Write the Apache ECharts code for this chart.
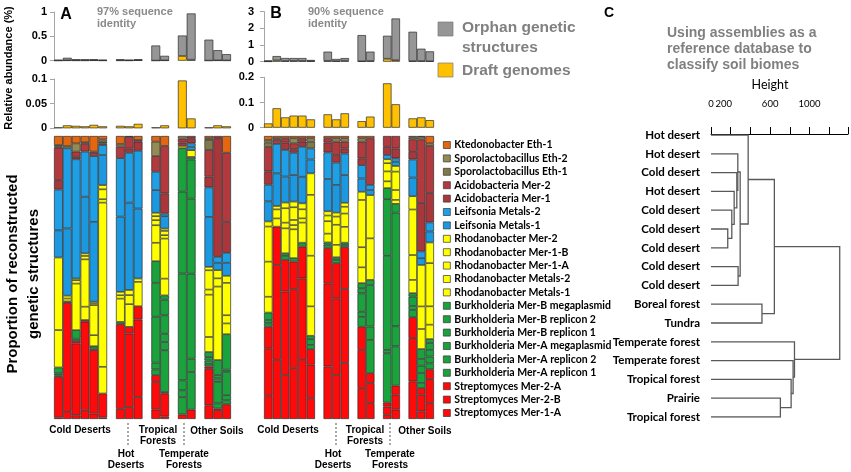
<!DOCTYPE html>
<html><head><meta charset="utf-8">
<script src="https://cdn.jsdelivr.net/npm/echarts@6/dist/echarts.min.js"></script>
<style>html,body{margin:0;padding:0;background:#fff}#c{width:851px;height:472px}</style>
</head><body><div id="c"></div>
<script>
// ---------- data ----------
const componentNames = ['Ktedonobacter Eth-1','Sporolactobacillus Eth-2','Sporolactobacillus Eth-1','Acidobacteria Mer-2','Acidobacteria Mer-1','Leifsonia Metals-2','Leifsonia Metals-1','Rhodanobacter Mer-2','Rhodanobacter Mer-1-B','Rhodanobacter Mer-1-A','Rhodanobacter Metals-2','Rhodanobacter Metals-1','Burkholderia Mer-B megaplasmid','Burkholderia Mer-B replicon 2','Burkholderia Mer-B replicon 1','Burkholderia Mer-A megaplasmid','Burkholderia Mer-A replicon 2','Burkholderia Mer-A replicon 1','Streptomyces Mer-2-A','Streptomyces Mer-2-B','Streptomyces Mer-1-A'];
const componentColors = ['#E4670F','#948A54','#80794A','#B23A3E','#A8363A','#1F9FE6','#1B98E0','#FFFF00','#FFFF00','#FFFF00','#FFFF00','#FFFF00','#1AA23C','#1AA23C','#1AA23C','#1AA23C','#1AA23C','#1AA23C','#FF0A0A','#FF0A0A','#FF0A0A'];
const groupNames = ['Cold Deserts','Hot Deserts','Tropical Forests','Temperate Forests','Other Soils'];
const groupSizes = [6,3,2,2,3];
// composition (% of reconstructed genetic structures), one row per sample, columns in componentNames order
const compA = [
 [3.2,0.5,0.4,11.5,3.3,14.4,9.6,25.6,13.2,0,0,0,2.1,0.7,0.5,0,0,0,14.4,0.5,0],
 [3.5,0.8,0,0,0,28,23.5,1,1,0,0,0,0,0,0,0,0,0,0.6,38,2.5],
 [2.6,2.9,0,1.8,0.9,42,0,0.6,1.2,16.4,0,0,3,0.8,0,0,0,0,0.9,25.3,1.3],
 [2.2,0.6,0,2.7,0,15.9,20,0.9,1.2,16.7,4.7,0,0,0,0,0,0,0,0.6,31.2,3.1],
 [5.5,0.4,0,1.2,0,23.2,28.2,0.6,0.6,10.6,3.9,0,0.8,0.6,0,0,0,0,22.4,1.9,0],
 [1.2,0.8,0.6,0.6,0,3.5,10.6,1.5,3.5,1.2,57.9,9.4,0,0,0,0,0,0,8.5,0.5,0],
 [2.8,0.9,0,4.1,0,20.6,26.5,1.2,1.2,8.2,0,0,0.8,0,0,0,0,0,29.8,3.6,0],
 [0.3,0,0,4.1,1.5,17.6,30.8,1.8,3.2,8,0,0,0,0,0,0,0,0,2.4,25.9,4.2],
 [1.4,0,0,0.6,3.2,20.4,24.7,1.2,8.6,0,0,0,0,0,0,0,0,0,4.7,27.3,7.8],
 [2,5.1,0,5.5,0,6.5,8,1.2,1.4,1.8,6.2,6.5,7.6,12,16.2,2.4,2,0,2.4,9.8,3.3],
 [3.5,0,0,16.7,7.1,0.9,4.4,0.8,1.5,1.2,14.1,5.9,1.5,5.5,6.5,2.9,2.9,14.7,0.6,8,0.9],
 [0,0.9,0,1.4,1.2,0,0,0.8,0,0,0,0,15.3,28.8,37.6,3.5,2.4,6.1,1.6,0,0],
 [0,0,0,0.8,1.8,1.2,1.2,2.4,0,0,0,0,0.9,13.8,26.5,30,4.7,13.3,3.3,0,0],
 [0.8,0.6,3.5,9.4,3.8,10.4,17.6,1.2,6.8,1.8,14.9,5.3,1.8,1.2,1.2,0.9,0,0,0.8,12.9,4.8],
 [0,0,0,0.8,41.8,2.1,2.6,2.9,2.9,25.9,0,0,5.3,1.2,1.2,7.6,1.8,0,0.6,3.1,0],
 [5.9,0,0,24.4,10.9,3.5,4.6,2.5,11.4,2.9,3.8,0,12.5,0.8,8.2,1.8,1.4,0,5.2,0,0]
];
const compB = [
 [1.4,0.9,1.6,8.6,4.7,5.9,7.1,1.8,12.4,12.4,5.6,0,2.6,1.2,1.2,0,0,0,7.6,16.8,8.2],
 [0.8,0.6,0,1.4,0,10.4,11.5,1.2,3.2,2.9,0,0,0,0,0,0,0,0,13.5,33.5,20.9],
 [0.8,0,0,1.5,2.6,9.4,9.2,2,5.1,2,8.8,0,0.9,1.4,0,0,0,0,11.2,29.4,15.6],
 [0.8,1.8,0,2.1,1.2,7.9,9.4,2,4.5,1.8,1.5,10.2,1.2,0,0,0,0,0,9.8,27.9,18],
 [0.8,0,0,1.2,1.8,10.6,9.4,2.1,3.2,1.5,7.1,0,1.4,0,0,0,0,0,11.2,28.8,20.9],
 [0.8,1.2,2.4,0,0,3.9,4.9,7.6,21.5,17.9,10.4,0,1.2,2,1.5,0,0,0,5.5,11.8,7.4],
 [0.8,0,0,1.5,3.5,9.4,11.4,1.5,2,4.4,3.1,0,0.8,1.2,0,0,0,0,12.6,29.2,18.6],
 [0.8,1.2,0,4.7,2.7,7.9,9.8,1.4,2.9,7.1,4.4,0,0.9,1.2,0,0,0,0,12.4,27.1,15.6],
 [0.8,1.2,0,2.4,1.8,7.6,9.8,1.4,2.4,4.7,5.6,0,0.8,0.8,0,0,0,0,14.8,26.1,19.8],
 [0.8,1.2,0,5.9,2.4,4.7,4.7,2.9,16.7,7.1,5.6,0,1.8,1.8,6.5,1.8,3.5,0,8.2,13.5,10.9],
 [0.8,0,0,16.5,0,1.8,1.8,15.3,14.7,0,0,0,1.8,14.7,4.7,11.8,0,0,3.5,7.1,5.6],
 [0,0,0,3.8,2.9,1.5,0,1.4,2.9,3.5,2.4,0,3.9,20,33.2,1.2,17.4,0,1.4,2.9,1.5],
 [0,0,0,4.4,3.5,1.2,1.5,2,6.5,3.5,1.4,0,3.1,40.2,7.1,13.9,0,0,3.2,5.3,3.3],
 [0.5,0.7,0,4.4,2.7,6.4,6.6,4.7,16.1,8.8,4.7,0,1.2,3.3,1.4,2.6,0,0,7.4,15.3,13.3],
 [0.3,0.9,0,22.6,17.1,2.4,2.4,14.7,8,7.1,0,0,3.5,2.4,2.6,3.5,1.8,0,2.4,5.9,2.7],
 [2.6,0.9,0,16.7,10.4,3.2,3.9,7.3,15.3,6.5,5.1,0,1.4,2.4,2.4,2.4,2.1,0,3.5,8.5,5.6]
];
// relative abundance (%)
const orphanA = [0.018,0.054,0.025,0.026,0.023,0.016, 0.025,0.016,0.021, 0.31,0.094, 0.42,0.95, 0.43,0.21,0.13];
const draftA  = [0.002,0.006,0.005,0.004,0.007,0.004, 0.005,0.004,0.009, 0.002,0.006, 0.097,0.02, 0.002,0.006,0.004];
const orphanB = [0.06,0.26,0.18,0.17,0.17,0.07, 0.55,0.13,0.16, 1.57,0.56, 1.38,2.5, 1.76,0.74,0.59];
const draftB  = [0.017,0.077,0.041,0.048,0.048,0.033, 0.053,0.033,0.057, 0.026,0.044, 0.176,0.093, 0.037,0.041,0.03];
// dendrogram
const leafLabels = ['Hot desert','Hot desert','Cold desert','Hot desert','Cold desert','Cold desert','Cold desert','Cold desert','Cold desert','Boreal forest','Tundra','Temperate forest','Temperate forest','Tropical forest','Prairie','Tropical forest'];
// [nodeA, nodeB, height]; leaves are 0..15, merge k creates node 16+k
const merges = [[5,6,170],[4,16,211],[3,17,235],[2,18,262],[1,19,272],[7,8,275],[20,21,296],[0,22,377],[9,10,517],[23,24,643],[14,15,704],[13,26,813],[12,27,833],[11,28,847],[25,29,1306]];
const heightTickLabels = [0,200,600,1000];

// ---------- build ----------
const chart = echarts.init(document.getElementById('c'));
const slotIdx = [];
{ let k = 0; groupSizes.forEach((n, g) => { for (let i = 0; i < n; i++) slotIdx.push(k++); if (g < groupSizes.length - 1) slotIdx.push(null); }); }
const cats = slotIdx.map((v, i) => 'c' + i);
const spread = arr => slotIdx.map(i => (i === null || !(arr[i] > 0)) ? '-' : arr[i]);
const norm = rows => rows.map(r => { const t = r.reduce((a, b) => a + b, 0); return r.map(v => v / t * 100); });

const BOLD = 'bold';
const SANS = "'Liberation Sans', Arial, sans-serif";
const NARROW = "Lato, 'Liberation Sans', sans-serif";
const border = { borderColor: '#2b2b2b', borderWidth: 0.7 };

const grids = [
  { left: 54, top: 12, width: 177, height: 48.7 },
  { left: 54, top: 79, width: 177, height: 49.3 },
  { left: 54, top: 136, width: 177, height: 283 },
  { left: 264, top: 11.7, width: 170, height: 50 },
  { left: 264, top: 77.3, width: 170, height: 50.4 },
  { left: 264, top: 136, width: 170, height: 283 },
  { left: 711, top: 124, width: 137, height: 10 },
  { left: 711, top: 135, width: 137, height: 282 }
];
const xAxes = [], yAxes = [];
for (let g = 0; g < 6; g++) xAxes.push({ gridIndex: g, type: 'category', data: cats, show: false });
xAxes.push({ gridIndex: 6, type: 'value', min: 0, max: 1390, interval: 200, position: 'top',
  axisLine: { show: true, lineStyle: { color: '#000', width: 1 } },
  axisTick: { show: true, length: 7, lineStyle: { color: '#000' } },
  splitLine: { show: false },
  axisLabel: { margin: 15, fontSize: 9.5, fontFamily: NARROW, color: '#000',
    formatter: v => heightTickLabels.includes(v) ? (v === 200 ? '{s|200}' : String(v)) : '',
    rich: { s: { fontSize: 9.5, fontFamily: NARROW, color: '#000', padding: [0, 14, 0, 0] } } } });
xAxes.push({ gridIndex: 7, type: 'value', min: 0, max: 1390, show: false });

function smallY(g, max, interval, margin) {
  return { gridIndex: g, type: 'value', min: 0, max: max, interval: interval,
    axisLine: { show: true, lineStyle: { color: '#a6a6a6' } },
    axisTick: { show: true, length: 4, lineStyle: { color: '#a6a6a6' } },
    splitLine: { show: false },
    axisLabel: { margin: margin, fontWeight: BOLD, fontSize: 11, fontFamily: SANS, color: '#000' } };
}
yAxes.push(smallY(0, 1, 0.5, 7));
yAxes.push(smallY(1, 0.1, 0.05, 7));
yAxes.push({ gridIndex: 2, type: 'value', min: 0, max: 100, show: false });
yAxes.push(smallY(3, 3, 1, 10));
yAxes.push(smallY(4, 0.2, 0.1, 10));
yAxes.push({ gridIndex: 5, type: 'value', min: 0, max: 100, show: false });
yAxes.push({ gridIndex: 6, type: 'value', min: 0, max: 1, show: false });
yAxes.push({ gridIndex: 7, type: 'value', min: 0, max: 15, interval: 1, inverse: true,
  axisLine: { show: false }, axisTick: { show: false }, splitLine: { show: false },
  axisLabel: { margin: 11, fontWeight: BOLD, fontSize: 11.5, fontFamily: NARROW, color: '#000',
    formatter: v => leafLabels[v] || '' } });

const series = [];
const barBase = { type: 'bar', barCategoryGap: '0%', barGap: '0%', barWidth: '100%' };
function addPanel(p, gTop, gMid, gComp, orphan, draft, comp) {
  series.push(Object.assign({}, barBase, { name: 'Draft genomes', xAxisIndex: gTop, yAxisIndex: gTop, stack: 'top' + p,
    data: spread(draft), itemStyle: Object.assign({ color: '#FFC000' }, border) }));
  series.push(Object.assign({}, barBase, { name: 'Orphan genetic structures', xAxisIndex: gTop, yAxisIndex: gTop, stack: 'top' + p,
    data: spread(orphan), itemStyle: Object.assign({ color: '#969696' }, border) }));
  series.push(Object.assign({}, barBase, { name: 'Draft genomes', xAxisIndex: gMid, yAxisIndex: gMid,
    data: spread(draft), itemStyle: Object.assign({ color: '#FFC000' }, border) }));
  const rows = norm(comp);
  for (let c = componentNames.length - 1; c >= 0; c--) {
    series.push(Object.assign({}, barBase, { name: componentNames[c], xAxisIndex: gComp, yAxisIndex: gComp, stack: 'comp' + p,
      data: spread(rows.map(r => r[c])),
      itemStyle: Object.assign({ color: componentColors[c] }, border) }));
  }
}
addPanel('A', 0, 1, 2, orphanA, draftA, compA);
addPanel('B', 3, 4, 5, orphanB, draftB, compB);

// dendrogram segments
const nodeH = [], nodeY = [];
leafLabels.forEach((l, i) => { nodeH[i] = 0; nodeY[i] = i; });
const dendroLines = merges.map((m, k) => {
  const [a, b, h] = m; const id = leafLabels.length + k;
  nodeH[id] = h; nodeY[id] = (nodeY[a] + nodeY[b]) / 2;
  return { coords: [[nodeH[a], nodeY[a]], [h, nodeY[a]], [h, nodeY[b]], [nodeH[b], nodeY[b]]] };
});
series.push({ type: 'lines', coordinateSystem: 'cartesian2d', xAxisIndex: 7, yAxisIndex: 7, polyline: true,
  silent: true, data: dendroLines, lineStyle: { color: '#595959', width: 1.3, opacity: 1, curveness: 0 } });

const txt = (x, y, s, o, rot) => ({ type: 'text', x: x, y: y, rotation: rot || 0, silent: true,
  style: Object.assign({ text: s, fill: '#000', font: 'bold 10px ' + SANS, textAlign: 'center', textVerticalAlign: 'middle' }, o || {}) });
const dash = (x) => ({ type: 'line', silent: true, shape: { x1: x, y1: 423, x2: x, y2: 445 },
  style: { stroke: '#555', lineWidth: 1, lineDash: [2, 2] } });

const graphic = [
  txt(9, 68, 'Relative abundance (%)', { font: 'bold 11px ' + SANS }, Math.PI / 2),
  txt(13, 274, 'Proportion of reconstructed', { font: 'bold 15px ' + SANS }, Math.PI / 2),
  txt(34, 274, 'genetic structures', { font: 'bold 15px ' + SANS }, Math.PI / 2),
  txt(66, 15, 'A', { font: 'bold 16px ' + SANS }),
  txt(276, 14, 'B', { font: 'bold 16px ' + SANS }),
  txt(609, 13, 'C', { font: 'bold 14px ' + SANS }),
  txt(97, 12, '97% sequence', { font: 'bold 11px ' + SANS, fill: '#8a8a8a', textAlign: 'left' }),
  txt(97, 24, 'identity', { font: 'bold 11px ' + SANS, fill: '#8a8a8a', textAlign: 'left' }),
  txt(308, 12, '90% sequence', { font: 'bold 11px ' + SANS, fill: '#8a8a8a', textAlign: 'left' }),
  txt(308, 24, 'identity', { font: 'bold 11px ' + SANS, fill: '#8a8a8a', textAlign: 'left' }),
  { type: 'rect', shape: { x: 438, y: 22, width: 15, height: 14 }, style: { fill: '#969696', stroke: '#7a7a7a', lineWidth: 0.7 } },
  { type: 'rect', shape: { x: 438, y: 63, width: 15, height: 14 }, style: { fill: '#FFC000', stroke: '#7a7a7a', lineWidth: 0.7 } },
  txt(462, 28, 'Orphan genetic', { font: 'bold 15.5px ' + SANS, fill: '#808080', textAlign: 'left' }),
  txt(462, 48, 'structures', { font: 'bold 15.5px ' + SANS, fill: '#808080', textAlign: 'left' }),
  txt(462, 71, 'Draft genomes', { font: 'bold 15.5px ' + SANS, fill: '#808080', textAlign: 'left' }),
  txt(667, 33, 'Using assemblies as a', { font: 'bold 14px ' + SANS, fill: '#808080', textAlign: 'left' }),
  txt(667, 49, 'reference database to', { font: 'bold 14px ' + SANS, fill: '#808080', textAlign: 'left' }),
  txt(667, 65, 'classify soil biomes', { font: 'bold 14px ' + SANS, fill: '#808080', textAlign: 'left' }),
  txt(770, 85, 'Height', { font: '12.5px ' + NARROW }),
  // panel A group labels
  txt(80, 430, 'Cold Deserts'), txt(158, 430, 'Tropical'), txt(158, 441, 'Forests'), txt(217, 431, 'Other Soils'),
  txt(126, 454, 'Hot'), txt(126, 465, 'Deserts'), txt(184, 454, 'Temperate'), txt(184, 465, 'Forests'),
  dash(128), dash(184),
  // panel B group labels
  txt(288, 430, 'Cold Deserts'), txt(365, 430, 'Tropical'), txt(365, 441, 'Forests'), txt(425, 431, 'Other Soils'),
  txt(333, 454, 'Hot'), txt(333, 465, 'Deserts'), txt(390, 454, 'Temperate'), txt(390, 465, 'Forests'),
  dash(336), dash(390)
];

chart.setOption({
  animation: false,
  backgroundColor: '#fff',
  grid: grids, xAxis: xAxes, yAxis: yAxes, series: series,
  legend: [{
    data: componentNames.map(n => ({ name: n, icon: 'rect' })),
    orient: 'vertical', left: 443, top: 139, padding: 0,
    itemWidth: 7, itemHeight: 7, itemGap: 1.4, selectedMode: false,
    itemStyle: { borderColor: '#333', borderWidth: 0.7 },
    textStyle: { fontSize: 10.5, fontWeight: BOLD, fontFamily: NARROW, color: '#000', lineHeight: 12, padding: [0, 0, 0, -1] }
  }],
  graphic: graphic
});
</script>
</body></html>
